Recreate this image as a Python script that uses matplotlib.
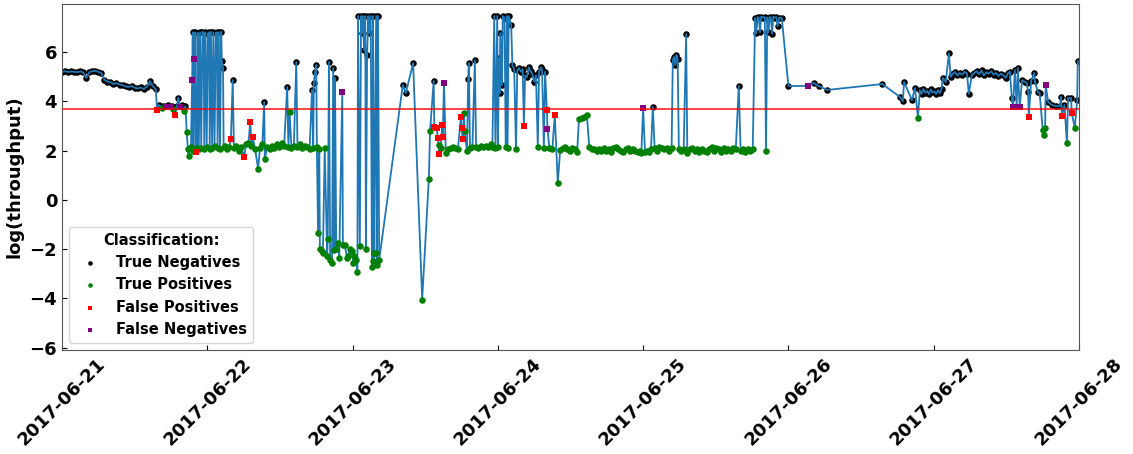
import pandas as pd
import matplotlib
matplotlib.use("Agg")
import matplotlib.pyplot as plt
import matplotlib.dates as mdates

START = "2017-06-21"
END = "2017-06-28"
THRESHOLD = 3.7

# hours after 2017-06-21 00:00, log(throughput), class code
# n = True Negative, p = True Positive, f = False Positive, m = False Negative
seg_a_hours = [0, 0.5, 1, 1.5, 2, 2.5, 3, 3.5, 4, 4.5, 5, 5.5, 6, 6.5, 7, 7.5,
               8, 8.5, 9, 9.5, 10, 10.5, 11, 11.5, 12, 12.5, 13, 13.5, 14, 14.5, 15, 15.5]
seg_a_vals = [5.20, 5.22, 5.19, 5.21, 5.20, 5.18, 5.21, 5.17, 4.95, 5.18, 5.22, 5.24, 5.19, 5.15, 4.88, 4.80,
              4.78, 4.70, 4.74, 4.68, 4.66, 4.60, 4.58, 4.62, 4.55, 4.52, 4.56, 4.50, 4.58, 4.82, 4.62, 4.48]
seg_a_cls = "nnnnnnnn" "nnnnnnnn" "nnnnnnnn" "nnnnnnnn"

seg_b_hours = [15.7, 16.0, 16.3, 16.6, 16.9, 17.2, 17.5, 17.8, 18.1, 18.4, 18.7, 19.0, 19.2, 19.5, 19.8, 20.1, 20.4]
seg_b_vals = [3.65, 3.85, 3.80, 3.72, 3.82, 3.78, 3.84, 3.75, 3.80, 3.70, 3.45, 3.82, 4.15, 3.78, 3.85, 3.60, 3.80]
seg_b_cls = "fnnpnmnmnpfnnmnpn"

seg_c_hours = [20.6, 20.8, 20.9, 21.1, 21.3, 21.5, 21.6, 21.7, 21.85, 22.0, 22.1, 22.3, 22.4, 22.6, 22.8,
               23.0, 23.2, 23.4, 23.5, 23.7, 23.9, 24.1, 24.3, 24.4, 24.6, 24.8, 25.0, 25.2, 25.4, 25.6,
               25.7, 25.9, 26.1, 26.3, 26.4, 26.6, 26.7]
seg_c_vals = [2.75, 2.05, 1.78, 2.10, 2.15, 4.86, 6.80, 2.00, 5.72, 6.80, 1.95, 2.10, 6.78, 2.05, 6.80,
              2.12, 6.82, 6.78, 2.08, 6.80, 2.15, 6.75, 6.80, 2.05, 6.82, 2.10, 6.80, 2.18, 6.78, 6.80,
              2.12, 6.80, 2.08, 6.82, 5.62, 5.35, 2.15]
seg_c_cls = "ppppp" "mnpmn" "fpnpn" "pnnpn" "pnnpn" "pnpnn" "pnpnn" "np"

seg_d_hours = [26.9, 27.3, 27.6, 27.9, 28.2, 28.4, 28.8, 29.2, 29.6, 30.1, 30.4, 30.8, 31.1, 31.3, 31.5,
               31.9, 32.4, 32.7, 33.1, 33.4, 33.5, 33.9, 34.3, 34.7, 35.1, 35.5, 35.9, 36.3, 36.7, 37.2,
               37.4, 37.6, 37.9, 38.3, 38.7, 38.9, 39.3, 39.7, 40.1, 40.5, 40.9, 41.3, 41.5, 41.6, 41.8,
               42.0, 42.1]
seg_d_vals = [2.20, 2.05, 2.15, 2.45, 4.86, 2.10, 2.20, 2.00, 2.15, 1.74, 2.25, 2.30, 3.17, 2.20, 2.56,
              2.05, 1.26, 2.10, 2.25, 3.97, 1.66, 2.15, 2.05, 2.20, 2.10, 2.25, 2.15, 2.30, 2.20, 4.58,
              2.15, 3.55, 2.10, 2.20, 5.59, 2.15, 2.25, 2.10, 2.20, 2.15, 2.05, 4.46, 2.10, 4.74, 5.19,
              5.47, 2.15]
seg_d_cls = "ppp" "f" "n" "pppp" "f" "pp" "f" "p" "f" "pppp" "n" "ppppppppp" "n" "pppp" "n" "pppppp" "n" "p" "nnn" "p"

seg_e_hours = [42.3, 42.5, 42.6, 42.9, 43.1, 43.4, 43.8, 43.9, 44.1, 44.3, 44.6, 44.8, 45.0, 45.1, 45.3,
               45.6, 45.8, 46.3, 46.4, 46.7, 47.1, 47.2, 47.6, 47.9, 48.1, 48.2, 48.6, 48.8, 48.9, 49.2,
               49.4, 49.5, 49.7, 49.9, 50.1, 50.2, 50.4, 50.6, 50.7, 51.0, 51.2, 51.4, 51.45, 51.5, 51.9,
               51.95, 52.0, 52.2, 52.4]
seg_e_vals = [-1.35, 2.05, -2.00, -2.10, -2.15, 2.10, -2.30, -1.60, 5.59, -2.45, -2.55, 5.35, -2.05, 4.95, -2.00,
              -1.75, -2.35, 4.38, -1.85, -1.85, -2.35, -2.27, -2.00, -2.10, -2.55, -2.30, -2.43, -2.92, 7.46, -1.86,
              7.46, 6.77, 7.46, 6.08, 7.46, -2.00, 5.88, 7.46, 6.77, 7.46, -2.72, 7.46, -2.50, -2.15, 7.46,
              -2.15, -2.63, 7.46, -2.43]
seg_e_cls = "pppppppp" "n" "pp" "n" "p" "n" "ppp" "m" "pppppppppp" "n" "p" "nnnnn" "p" "nnnn" "p" "n" "pp" "n" "pp" "n" "p"

seg_f_hours = [56.3, 56.8, 58.0, 59.5, 60.6, 60.8, 61.4]
seg_f_vals = [4.66, 4.33, 5.55, -4.05, 0.85, 2.80, 4.82]
seg_f_cls = "nnnpppn"

seg_g_hours = [61.5, 61.9, 62.1, 62.2, 62.3, 62.6, 62.8, 62.9, 63.1, 63.4, 63.8, 64.2, 64.6, 65.0, 65.4,
               65.9, 66.0, 66.2, 66.4, 66.5, 66.9, 67.1, 67.2, 67.4, 67.8, 68.2, 68.4, 68.8, 69.2, 69.6,
               70.0, 70.4, 70.8, 71.1, 71.4, 71.6, 71.9, 72.0, 72.2, 72.3, 72.4, 72.7, 72.8, 73.1, 73.3,
               73.5, 73.6, 73.8, 74.2]
seg_g_vals = [2.95, 2.92, 2.50, 2.23, 1.86, 2.10, 3.04, 2.56, 4.75, 1.90, 2.05, 2.10, 2.15, 2.10, 2.05,
              3.37, 2.92, 2.47, 3.52, 2.80, 1.99, 4.90, 5.55, 2.10, 2.15, 5.67, 2.15, 2.10, 2.20, 2.15,
              2.20, 2.15, 2.25, 2.15, 7.46, 2.10, 7.46, 2.15, 5.75, 4.33, 6.77, 4.66, 7.46, 7.40, 2.15,
              7.46, 2.10, 7.46, 7.10]
seg_g_cls = "fffpfpffm" "pppppp" "fff" "ppp" "nn" "pp" "n" "pppppppp" "n" "p" "n" "p" "nnnnnn" "p" "n" "p" "nn"

seg_h_hours = [74.4, 74.7, 75.0, 75.2, 75.5, 75.8, 76.1, 76.3, 76.5, 76.8, 77.1, 77.4, 77.7, 78.0, 78.3,
               78.6, 78.8, 79.1, 79.3, 79.6, 79.8]
seg_h_vals = [5.47, 5.30, 2.05, 5.25, 5.35, 5.20, 5.30, 3.00, 5.05, 4.98, 5.38, 5.22, 5.10, 4.80, 5.05,
              2.15, 5.18, 5.38, 5.30, 2.10, 5.20]
seg_h_cls = "nnpnnnnf" "nnnnnnn" "p" "nnn" "p" "n"

seg_i_hours = [80.1, 80.2, 80.5, 81.0, 81.4, 81.9, 82.3, 82.7, 83.1, 83.5, 83.9, 84.3, 84.7, 85.1, 85.4,
               85.9, 86.3, 86.7, 87.1, 87.5, 87.9, 88.3, 88.7, 89.1, 89.5, 89.9, 90.3, 90.7, 91.1, 91.5,
               91.9, 92.3, 92.7, 93.1, 93.5, 93.9, 94.3, 94.7, 95.1, 95.5, 95.7, 96.0]
seg_i_vals = [3.65, 2.88, 2.10, 2.05, 3.45, 0.69, 2.03, 2.10, 2.15, 2.05, 2.00, 2.10, 2.05, 1.95, 3.28,
              3.32, 3.35, 3.45, 2.15, 2.05, 2.05, 2.00, 2.05, 2.00, 2.10, 2.00, 2.05, 1.95, 2.10, 2.15,
              2.05, 2.00, 1.95, 2.05, 2.10, 2.00, 2.05, 2.00, 1.95, 2.00, 1.90, 3.72]
seg_i_cls = "fmppf" "pppppppppp" "pppppppppp" "pppppppppp" "pppppp" "m"

seg_j_hours = [96.3, 96.6, 96.9, 97.3, 97.6, 97.9, 98.3, 98.7, 99.1, 99.5, 99.9, 100.3, 100.7, 100.9, 101.1,
               101.3, 101.5, 101.7, 101.9, 102.3, 102.7, 103.1, 103.3, 103.7, 104.1, 104.5, 104.9, 105.3, 105.7, 106.1,
               106.5, 106.9, 107.3, 107.7, 108.1, 108.5, 108.9, 109.3, 109.7, 110.1, 110.5, 110.9, 111.3, 111.8, 112.1,
               112.5, 112.9, 113.3, 113.7, 114.1]
seg_j_vals = [1.95, 2.00, 1.95, 2.05, 3.77, 2.10, 2.00, 2.15, 2.10, 2.05, 2.10, 2.00, 2.10, 5.67, 5.80,
              5.47, 5.88, 5.72, 2.05, 2.00, 2.05, 6.73, 1.90, 2.05, 2.10, 2.00, 2.05, 1.95, 2.05, 2.00,
              1.95, 2.05, 2.15, 2.00, 2.10, 2.05, 1.95, 2.10, 2.00, 2.05, 2.00, 2.10, 2.05, 4.62, 2.00,
              2.05, 1.95, 2.05, 2.00, 2.05]
seg_j_cls = "ppppn" "pppppppp" "nnnnn" "ppp" "n" "pppppppppp" "pppppppppp" "p" "n" "pppppp"

seg_k_hours = [114.5, 114.7, 114.9, 115.1, 115.3, 115.5, 115.8, 116.1, 116.3, 116.5, 116.7, 116.9, 117.1, 117.3,
               117.5, 117.7, 118.0, 118.2, 118.5, 118.9]
seg_k_vals = [7.38, 6.77, 7.42, 7.40, 6.80, 7.44, 7.40, 7.42, 2.00, 7.40, 6.80, 7.42, 7.40, 6.75,
              7.44, 7.40, 7.42, 7.05, 7.40, 7.38]
seg_k_cls = "nnnnnnnn" "p" "nnnnnnnnnnn"

seg_l_hours = [120.0, 123.2, 124.2, 125.0, 126.4, 135.5, 138.4, 138.9, 139.1, 140.4, 140.9, 141.4]
seg_l_vals = [4.62, 4.62, 4.74, 4.62, 4.46, 4.70, 4.18, 4.00, 4.78, 4.05, 4.54, 3.32]
seg_l_cls = "nmnnnnnnnnnp"

seg_m_hours = [141.7, 142.0, 142.3, 142.6, 142.9, 143.2, 143.5, 143.8, 144.1, 144.4, 144.7, 145.0, 145.3, 145.5,
               146.0, 146.5, 146.8, 147.1, 147.5, 147.9, 148.3, 148.7, 149.1, 149.5, 149.8, 150.3, 150.7, 151.1,
               151.5, 151.9, 152.3, 152.7, 153.1, 153.5, 153.9, 154.3, 154.7, 155.1, 155.5, 155.9, 156.3, 156.6]
seg_m_vals = [4.45, 4.30, 4.50, 4.35, 4.42, 4.28, 4.48, 4.36, 4.40, 4.30, 4.45, 4.33, 4.50, 4.95,
              4.78, 5.95, 4.99, 5.10, 5.19, 5.05, 5.15, 5.08, 5.20, 5.12, 4.30, 5.07, 5.15, 5.22,
              5.10, 5.25, 5.05, 5.18, 5.12, 5.22, 5.08, 5.15, 5.02, 5.12, 5.05, 4.95, 5.15, 5.20]
seg_m_cls = "nnnnnnnnnnnnnn" "nnnnnnnnnnnnnn" "nnnnnnnnnnnnnn"

seg_n_hours = [156.9, 157.1, 157.4, 157.7, 157.9, 158.2, 158.6, 159.1, 159.4, 159.6, 159.7, 160.1, 160.6, 160.7,
               161.2, 161.5, 162.0, 162.2, 162.4, 162.5, 162.9, 163.5, 164.2, 164.9, 165.0, 165.2, 165.6, 166.0,
               166.2, 166.7, 166.8, 167.3, 167.7, 167.8]
seg_n_vals = [4.13, 3.77, 5.27, 3.77, 5.35, 3.77, 4.86, 4.78, 4.74, 4.38, 3.37, 4.82, 5.15, 4.82,
              4.38, 4.33, 2.84, 2.63, 2.92, 4.66, 3.97, 3.85, 3.80, 3.82, 4.18, 3.40, 3.85, 2.30,
              4.13, 4.13, 3.52, 2.92, 4.05, 5.63]
seg_n_cls = "nmnmnm" "nnnn" "f" "nnnnn" "ppp" "m" "nnnnn" "f" "n" "p" "nn" "f" "p" "nn"

class_styles = [
    ("n", "True Negatives", "black", "o"),
    ("p", "True Positives", "green", "o"),
    ("f", "False Positives", "red", "s"),
    ("m", "False Negatives", "purple", "s"),
]

segments = [
    (seg_a_hours, seg_a_vals, seg_a_cls), (seg_b_hours, seg_b_vals, seg_b_cls),
    (seg_c_hours, seg_c_vals, seg_c_cls), (seg_d_hours, seg_d_vals, seg_d_cls),
    (seg_e_hours, seg_e_vals, seg_e_cls), (seg_f_hours, seg_f_vals, seg_f_cls),
    (seg_g_hours, seg_g_vals, seg_g_cls), (seg_h_hours, seg_h_vals, seg_h_cls),
    (seg_i_hours, seg_i_vals, seg_i_cls), (seg_j_hours, seg_j_vals, seg_j_cls),
    (seg_k_hours, seg_k_vals, seg_k_cls), (seg_l_hours, seg_l_vals, seg_l_cls),
    (seg_m_hours, seg_m_vals, seg_m_cls), (seg_n_hours, seg_n_vals, seg_n_cls),
]

hours, vals, cls = [], [], []
for h, v, c in segments:
    n = min(len(h), len(v), len(c))
    hours += list(h[:n]); vals += list(v[:n]); cls += list(c[:n])

df = pd.DataFrame({"hours": hours, "val": vals, "cls": cls})
df["time"] = pd.Timestamp(START) + pd.to_timedelta(df["hours"], unit="h")
df["t"] = mdates.date2num(df["time"].dt.to_pydatetime())

fig = plt.figure(figsize=(11.33, 4.54), dpi=100)
ax = fig.add_axes([62 / 1133, 104 / 454, 1017 / 1133, 346 / 454])

for code, label, color, marker in class_styles[:1]:
    sub = df[df["cls"] == code]
    ax.scatter(sub["t"], sub["val"], s=22, c=color, marker=marker, linewidths=0,
               label=label, zorder=2)
ax.plot(df["t"], df["val"], color="#1f77b4", lw=1.3, zorder=2.5)
for code, label, color, marker in class_styles[1:]:
    sub = df[df["cls"] == code]
    ax.scatter(sub["t"], sub["val"], s=22 if marker == "o" else 20, c=color, marker=marker,
               linewidths=0, label=label, zorder=3)

ax.axhline(THRESHOLD, color="red", lw=1.2, alpha=0.85, zorder=4)

ax.set_xlim(mdates.date2num(pd.Timestamp(START)), mdates.date2num(pd.Timestamp(END)))
ax.set_ylim(-6.1, 7.95)
ax.xaxis.set_major_locator(mdates.DayLocator())
ax.xaxis.set_major_formatter(mdates.DateFormatter("%Y-%m-%d"))
ax.set_yticks([-6, -4, -2, 0, 2, 4, 6])
ax.tick_params(direction="in", labelsize=13)
for lab in ax.get_xticklabels():
    lab.set_rotation(45)
    lab.set_fontweight("bold")
    lab.set_ha("center")
for lab in ax.get_yticklabels():
    lab.set_fontweight("bold")
ax.set_ylabel("log(throughput)", fontsize=13, fontweight="bold")
for sp in ax.spines.values():
    sp.set_color("#555555")

leg = ax.legend(title="Classification:", loc="lower left",
                prop={"weight": "bold", "size": 10.5},
                title_fontproperties={"weight": "bold", "size": 10.5},
                markerscale=0.7)

fig.savefig("out.png", dpi=100)
